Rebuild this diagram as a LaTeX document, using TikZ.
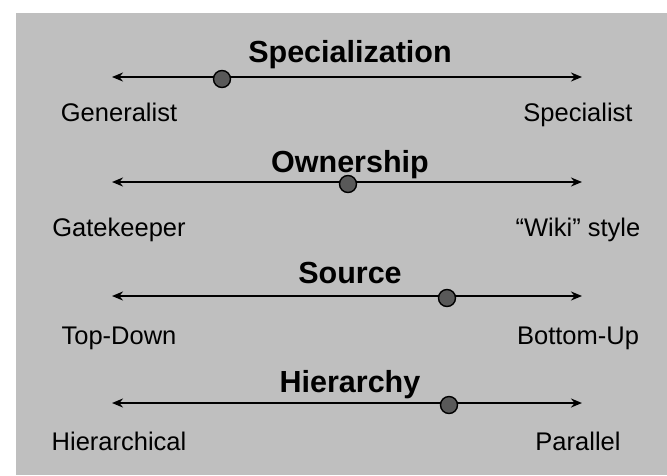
\documentclass[tikz,border=0pt]{standalone}
\usepackage{fontspec}
\setmainfont{Liberation Sans}
\usetikzlibrary{arrows.meta}
\begin{document}
\begin{tikzpicture}[x=1pt,y=-1pt,
	titre/.style={font=\fontsize{30.5}{32}\selectfont\bfseries,anchor=base,inner sep=0pt},
	etiquette/.style={font=\fontsize{25.5}{27}\selectfont,anchor=base,inner sep=0pt},
	echelle/.style={line width=2.6pt,{Stealth[length=11pt,width=9pt]}-{Stealth[length=11pt,width=9pt]}},
	curseur/.style={circle,draw=black,line width=1.4pt,fill=black!65,minimum size=17pt,inner sep=0pt}]
		\useasboundingbox (0,0) rectangle (667,475);
		%fond
		\fill[black!25] (16,13) rectangle (667,475);
		%echelles
		\foreach \i/\Titre/\Gauche/\Droite/\Yt/\Y/\Ye/\X in {1/Specialization/Generalist/Specialist/62/77/121/222,2/Ownership/Gatekeeper/“Wiki” style/172/182/236/348,3/Source/Top-Down/Bottom-Up/283/296/344/447,4/Hierarchy/Hierarchical/Parallel/392/403/450/449}{
			\node[titre] (titre\i) at (350,\Yt) {\Titre};
			\coordinate (g\i) at (112,\Y);
			\coordinate (d\i) at (582,\Y);
			\draw[echelle] (g\i)--(d\i);
			\node[curseur] (c\i) at (\X,\Y+2) {};
			\node[etiquette] (gauche\i) at (119,\Ye) {\Gauche};
			\node[etiquette] (droite\i) at (578,\Ye) {\Droite};
		}
	\end{tikzpicture}
\end{document}
